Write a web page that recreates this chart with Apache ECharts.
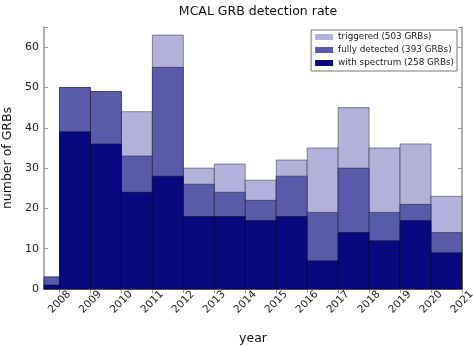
<!DOCTYPE html>
<html><head><meta charset="utf-8">
<script src="https://cdn.jsdelivr.net/npm/echarts@6/dist/echarts.min.js"></script>
<style>html,body{margin:0;padding:0;background:#fff}#c{width:473px;height:346px}</style>
</head><body><div id="c"></div>
<script>
var binEdges = [2007.5, 2008, 2009, 2010, 2011, 2012, 2013, 2014, 2015, 2016, 2017, 2018, 2019, 2020, 2021];
var tickYears = [2008, 2009, 2010, 2011, 2012, 2013, 2014, 2015, 2016, 2017, 2018, 2019, 2020, 2021];
var triggered = [3, 50, 49, 44, 63, 30, 31, 27, 32, 35, 45, 35, 36, 23];
var fullyDetected = [3, 50, 49, 33, 55, 26, 24, 22, 28, 19, 30, 19, 21, 14];
var withSpectrum = [1, 39, 36, 24, 28, 18, 18, 17, 18, 7, 14, 12, 17, 9];
var seriesNames = ['triggered (503 GRBs)', 'fully detected (393 GRBs)', 'with spectrum (258 GRBs)'];
var colors = ['#b1b1d9', '#5a5aaa', '#09097f'];

function toData(vals) {
  return vals.map(function (v, i) { return [binEdges[i], binEdges[i + 1], v]; });
}
function renderItem(color) {
  return function (params, api) {
    var p0 = api.coord([api.value(0), api.value(2)]);
    var p1 = api.coord([api.value(1), 0]);
    return {
      type: 'rect',
      shape: { x: p0[0], y: p0[1], width: p1[0] - p0[0], height: p1[1] - p0[1] },
      style: { fill: color, stroke: 'rgba(0,0,0,0.4)', lineWidth: 1 }
    };
  };
}
var vals = [triggered, fullyDetected, withSpectrum];
var series = vals.map(function (v, k) {
  return {
    type: 'custom', name: seriesNames[k], renderItem: renderItem(colors[k]),
    data: toData(v), encode: { x: [0, 1], y: 2 }, itemStyle: { color: colors[k] },
    z: 2 + k
  };
});
var font = 'DejaVu Sans';
var chart = echarts.init(document.getElementById('c'));
chart.setOption({
  animation: false,
  textStyle: { fontFamily: font },
  title: { text: 'MCAL GRB detection rate', left: 253, textAlign: 'center', top: 0,
    textStyle: { fontFamily: font, fontSize: 12.5, fontWeight: 'normal', color: '#111' } },
  legend: {
    orient: 'vertical', right: 16, top: 30, data: seriesNames,
    icon: 'rect', itemWidth: 18, itemHeight: 6, itemGap: 3,
    backgroundColor: '#fff', borderColor: '#777', borderWidth: 1, borderRadius: 0,
    padding: [2, 3, 3, 4],
    textStyle: { fontFamily: font, fontSize: 8.8, color: '#222', lineHeight: 10 }
  },
  grid: { left: 44, right: 11, top: 27, bottom: 57, containLabel: false, outerBoundsMode: 'none' },
  xAxis: [{
    type: 'value', min: 2007.5, max: 2021, position: 'bottom',
    name: 'year', nameLocation: 'middle', nameGap: 43,
    nameTextStyle: { fontFamily: font, fontSize: 12.5, color: '#111' },
    axisLine: { show: true, lineStyle: { color: '#999', width: 1.5 } },
    axisTick: { show: true, inside: true, length: 4, customValues: tickYears, lineStyle: { color: '#999' } },
    axisLabel: { customValues: tickYears, rotate: 45, fontSize: 10.5, color: '#222', margin: 13,
      align: 'center', verticalAlign: 'middle',
      formatter: function (v) { return String(v); } },
    splitLine: { show: false }
  }, {
    type: 'value', min: 2007.5, max: 2021, position: 'top',
    axisLine: { show: true, lineStyle: { color: '#999', width: 1.5 } },
    axisTick: { show: true, inside: true, length: 4, customValues: tickYears, lineStyle: { color: '#999' } },
    axisLabel: { show: false }, splitLine: { show: false }
  }],
  yAxis: [{
    type: 'value', min: 0, max: 65, interval: 10, position: 'left',
    name: 'number of GRBs', nameLocation: 'middle', nameGap: 30,
    nameTextStyle: { fontFamily: font, fontSize: 12.5, color: '#111' },
    axisLine: { show: true, lineStyle: { color: '#999', width: 1.5 } },
    axisTick: { show: true, inside: true, length: 4, lineStyle: { color: '#999' } },
    axisLabel: { fontSize: 11, color: '#222', margin: 5,
      formatter: function (v) { return v % 10 === 0 ? String(v) : ''; } },
    splitLine: { show: false }
  }, {
    type: 'value', min: 0, max: 65, interval: 10, position: 'right',
    axisLine: { show: true, lineStyle: { color: '#999', width: 1.5 } },
    axisTick: { show: true, inside: true, length: 4, lineStyle: { color: '#999' } },
    axisLabel: { show: false }, splitLine: { show: false }
  }],
  series: series
});
</script></body></html>
